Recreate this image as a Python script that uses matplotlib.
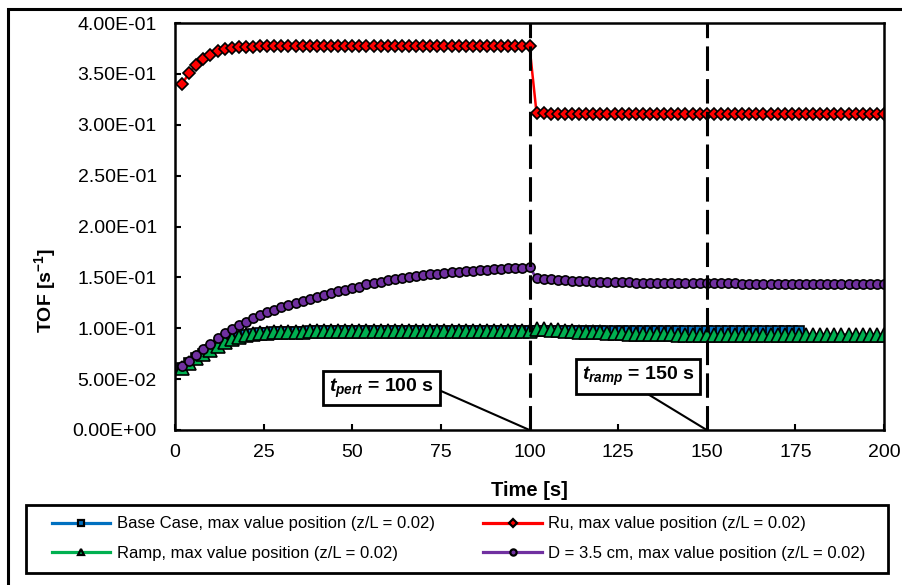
import numpy as np
import matplotlib
matplotlib.use("Agg")
import matplotlib.pyplot as plt
from matplotlib.lines import Line2D
from matplotlib.patches import Rectangle
from matplotlib.ticker import FuncFormatter, MultipleLocator

plt.rcParams['font.family'] = ['Liberation Sans', 'DejaVu Sans']
plt.rcParams['mathtext.fontset'] = 'custom'
plt.rcParams['mathtext.rm'] = 'Liberation Sans:bold'
plt.rcParams['mathtext.it'] = 'Liberation Sans:bold:italic'
plt.rcParams['mathtext.bf'] = 'Liberation Sans:bold'

# ---- data: TOF [1/s] sampled every 2 s ----
time_full = np.arange(2, 201, 2)          # 2 ... 200 s
time_base = np.arange(2, 177, 2)          # base case stops at 176 s

ru_tof = ([0.340, 0.351, 0.359, 0.365, 0.369, 0.372, 0.374, 0.3752, 0.376, 0.3765,
           0.3768, 0.377] + [0.377] * 38 +
          [0.3112, 0.3111, 0.3110] + [0.3110] * 47)

d35_tof = [0.063, 0.068, 0.074, 0.080, 0.085, 0.090, 0.095, 0.099, 0.103, 0.106,
           0.110, 0.113, 0.116, 0.118, 0.121, 0.123, 0.125, 0.127, 0.129, 0.131,
           0.133, 0.135, 0.137, 0.138, 0.140, 0.141, 0.143, 0.144, 0.145, 0.147,
           0.148, 0.149, 0.150, 0.151, 0.152, 0.153, 0.1535, 0.154, 0.155, 0.1555,
           0.156, 0.1565, 0.157, 0.1575, 0.158, 0.1585, 0.159, 0.1593, 0.1597, 0.160,
           0.1490, 0.1485, 0.1480, 0.1476, 0.1472, 0.1468, 0.1465, 0.1462, 0.1459, 0.1457,
           0.1455, 0.1453, 0.1451, 0.1450, 0.1448, 0.1447, 0.1446, 0.1445, 0.1444, 0.1444,
           0.1443, 0.1443, 0.1442, 0.1442, 0.1441, 0.1441, 0.1440, 0.1440, 0.1440, 0.1439,
           0.1439, 0.1439, 0.1438, 0.1438, 0.1438, 0.1438, 0.1437, 0.1437, 0.1437, 0.1437,
           0.1437, 0.1436, 0.1436, 0.1436, 0.1436, 0.1436, 0.1436, 0.1436, 0.1436, 0.1436]

base_rise = [0.061, 0.066, 0.071, 0.075, 0.079, 0.083, 0.086, 0.089, 0.091, 0.093,
             0.0942, 0.0950, 0.0956, 0.0960, 0.0963, 0.0965, 0.0967, 0.0968, 0.0969, 0.0970]
base_tof = base_rise + [0.0970] * 68

ramp_tof = (base_rise + [0.0970] * 30 +
            [0.0992, 0.0988, 0.0984, 0.0980, 0.0976, 0.0972, 0.0968, 0.0965, 0.0962, 0.0959,
             0.0956, 0.0953, 0.0950, 0.0948, 0.0946, 0.0944, 0.0942, 0.0941, 0.0940, 0.0939]
            + [0.0938] * 30)

t_pert = 100
t_ramp = 150

labels = ["Base Case, max value position (z/L = 0.02)",
          "Ru, max value position (z/L = 0.02)",
          "Ramp, max value position (z/L = 0.02)",
          "D = 3.5 cm, max value position (z/L = 0.02)"]
colors = ["#0070C0", "#FF0000", "#00B050", "#7030A0"]

W, H = 903, 585

# ---- figure ----
fig = plt.figure(figsize=(W / 100, H / 100), dpi=100)
ax = fig.add_axes([175 / W, 1 - 430 / H, (884 - 175) / W, (430 - 23) / H])

mew = 1.2
ax.plot(time_base, base_tof, color=colors[0], lw=2, marker='s', ms=6.8,
        mfc=colors[0], mec='black', mew=mew, zorder=3)
ax.plot(time_full, ru_tof, color=colors[1], lw=1.8, marker='D', ms=5.8,
        mfc=colors[1], mec='black', mew=mew, zorder=4)
ax.plot(time_full, ramp_tof, color=colors[2], lw=2, marker='^', ms=9.5,
        mfc=colors[2], mec='black', mew=mew, zorder=5)
ax.plot(time_full, d35_tof, color=colors[3], lw=2, marker='o', ms=6.6,
        mfc=colors[3], mec='black', mew=mew, zorder=6)

for tv in (t_pert, t_ramp):
    ax.axvline(tv, color='black', lw=2.2, ls=(0, (8, 2.7)), zorder=7)

ax.set_xlim(0, 200)
ax.set_ylim(0, 0.4)
ax.xaxis.set_major_locator(MultipleLocator(25))
ax.yaxis.set_major_locator(MultipleLocator(0.05))
ax.yaxis.set_major_formatter(FuncFormatter(lambda v, p: f"{v:.2E}"))
ax.tick_params(direction='in', length=4.5, width=1.5, labelsize=14, colors='black')
ax.tick_params(axis='y', pad=13)
ax.tick_params(axis='x', pad=10)
for s in ax.spines.values():
    s.set_linewidth(1.8)
    s.set_zorder(8)

# annotation boxes with leader lines to the time axis
box = dict(boxstyle='square,pad=0.3', fc='white', ec='black', lw=2)
ax.annotate(r"$t_{pert}$ = 100 s", xy=(t_pert, 0), xytext=(58.3, 0.0413),
            ha='center', va='center', fontsize=14, fontweight='bold', bbox=box,
            arrowprops=dict(arrowstyle='-', lw=1.5, color='black', relpos=(1, 0.5),
                            shrinkA=0, shrinkB=0), zorder=9)
ax.annotate(r"$t_{ramp}$ = 150 s", xy=(t_ramp, 0), xytext=(130.6, 0.0526),
            ha='center', va='center', fontsize=14, fontweight='bold', bbox=box,
            arrowprops=dict(arrowstyle='-', lw=1.5, color='black', relpos=(0.5, 0),
                            shrinkA=0, shrinkB=0), zorder=9)

fig.text(529.5 / W, 1 - 491 / H, "Time [s]", ha='center', va='center',
         fontsize=14.5, fontweight='bold')
fig.text(45 / W, 1 - 290 / H, r"TOF [s$^{-1}$]", rotation=90, ha='center',
         va='center', fontsize=14, fontweight='bold')

# legend (frame drawn separately)
handles = []
markers = ['s', 'D', '^', 'o']
for c, m, lab in zip(colors, markers, labels):
    handles.append(Line2D([], [], color=c, lw=2.3, marker=m, ms=4.5, mfc=c,
                          mec='black', mew=1.6, label=lab))
order = [0, 2, 1, 3]
leg = fig.legend([handles[i] for i in order], [labels[i] for i in order],
                 ncol=2, loc='center left', bbox_to_anchor=(52 / W, 1 - 538.5 / H),
                 frameon=False, fontsize=12, borderpad=0, borderaxespad=0,
                 handlelength=3.5, handletextpad=0.4, columnspacing=2.9,
                 labelspacing=0.85)
fig.patches.append(Rectangle((26 / W, 1 - 573 / H), (888 - 26) / W, (573 - 505) / H,
                             transform=fig.transFigure, fill=False, ec='black', lw=2))

# chart area border (right and bottom edges run past the canvas)
fig.patches.append(Rectangle((8 / W, -10 / H), 910 / W, (585 + 10 - 9) / H,
                             transform=fig.transFigure, fill=False, ec='black', lw=2.2))

fig.savefig("out.png", dpi=100)
